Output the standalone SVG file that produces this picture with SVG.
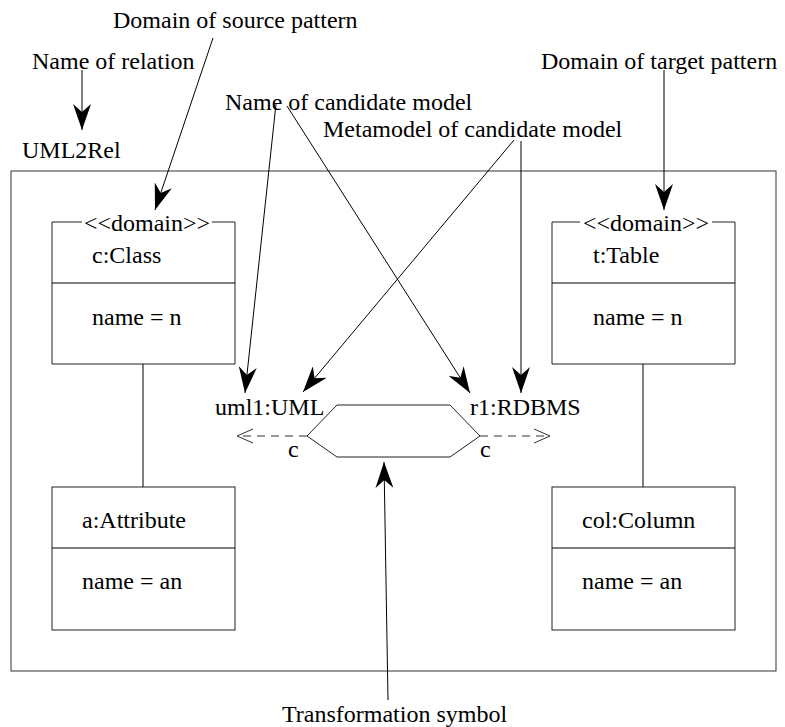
<svg xmlns="http://www.w3.org/2000/svg" width="785" height="727" viewBox="0 0 785 727">
  <style>
    text { font-family: "Liberation Serif", "Times New Roman", serif; font-size: 24px; fill: #000; }
    .box { fill: #fff; stroke: #222; stroke-width: 1; }
    .frame { fill: none; stroke: #333; stroke-width: 1; }
    .line { fill: none; stroke: #000; stroke-width: 1; }
    .dash { fill: none; stroke: #333; stroke-width: 1; stroke-dasharray: 8 6; }
    .open { fill: none; stroke: #333; stroke-width: 1; }
    .mid { text-anchor: middle; }
  </style>
  <defs>
    <marker id="barb" viewBox="0 0 26 18" markerWidth="26" markerHeight="18" refX="26" refY="9" orient="auto" markerUnits="userSpaceOnUse">
      <path d="M0,0 L26,9 L0,18 L8,9 z" fill="#000"/>
    </marker>
  </defs>

  <!-- relation frame -->
  <g id="relation">
    <rect class="frame" x="11" y="171" width="765" height="500"/>
    <text x="22" y="158">UML2Rel</text>
  </g>

  <!-- source domain -->
  <g id="class-c">
    <path class="box" d="M82,222 H52 V364 H235 V222 H212"/>
    <line class="line" x1="52" y1="283" x2="235" y2="283"/>
    <text class="mid" x="147" y="231">&lt;&lt;domain&gt;&gt;</text>
    <text x="92" y="263">c:Class</text>
    <text x="92" y="325">name = n</text>
  </g>

  <g id="attribute-a">
    <rect class="box" x="52" y="487" width="183" height="143"/>
    <line class="line" x1="52" y1="548" x2="235" y2="548"/>
    <text x="82" y="528">a:Attribute</text>
    <text x="82" y="589">name = an</text>
  </g>

  <!-- target domain -->
  <g id="table-t">
    <path class="box" d="M580,222 H552 V364 H735 V222 H712"/>
    <line class="line" x1="552" y1="283" x2="735" y2="283"/>
    <text class="mid" x="646" y="231">&lt;&lt;domain&gt;&gt;</text>
    <text x="593" y="263">t:Table</text>
    <text x="593" y="325">name = n</text>
  </g>

  <g id="column-col">
    <rect class="box" x="552" y="487" width="183" height="143"/>
    <line class="line" x1="552" y1="548" x2="735" y2="548"/>
    <text x="582" y="528">col:Column</text>
    <text x="582" y="589">name = an</text>
  </g>

  <!-- transformation symbol with its two domains -->
  <g id="transformation">
    <polygon class="box" points="307,436 337,405 450,405 480,436 450,457 337,457"/>
    <text x="215" y="415">uml1:UML</text>
    <text x="470" y="415">r1:RDBMS</text>
    <text x="288" y="457">c</text>
    <text x="480" y="457">c</text>
  </g>

  <!-- annotation labels -->
  <g id="labels">
    <text x="113" y="28">Domain of source pattern</text>
    <text x="32" y="69">Name of relation</text>
    <text x="541" y="69">Domain of target pattern</text>
    <text x="225" y="110">Name of candidate model</text>
    <text x="323" y="137">Metamodel of candidate model</text>
    <text x="282" y="722">Transformation symbol</text>
  </g>

  <g id="connectors">
    <!-- links between objects -->
    <line class="line" x1="143" y1="364" x2="143" y2="487"/>
    <line class="line" x1="643" y1="364" x2="643" y2="487"/>
    <!-- domain links of the transformation -->
    <line class="dash" x1="307" y1="436" x2="238" y2="436"/>
    <polyline class="open" points="253,429 237,436 253,443"/>
    <line class="dash" x1="480" y1="436" x2="549" y2="436"/>
    <polyline class="open" points="534,429 550,436 534,443"/>
    <!-- annotation pointers -->
    <line class="line" x1="82" y1="70" x2="82" y2="130" marker-end="url(#barb)"/>
    <line class="line" x1="213" y1="38" x2="155" y2="210" marker-end="url(#barb)"/>
    <line class="line" x1="664" y1="70" x2="664" y2="210" marker-end="url(#barb)"/>
    <line class="line" x1="276" y1="104" x2="245" y2="393" marker-end="url(#barb)"/>
    <line class="line" x1="287" y1="106" x2="470" y2="393" marker-end="url(#barb)"/>
    <line class="line" x1="514" y1="140" x2="303" y2="392" marker-end="url(#barb)"/>
    <line class="line" x1="521" y1="141" x2="521" y2="393" marker-end="url(#barb)"/>
    <line class="line" x1="388" y1="700" x2="384" y2="462" marker-end="url(#barb)"/>
  </g>
</svg>
